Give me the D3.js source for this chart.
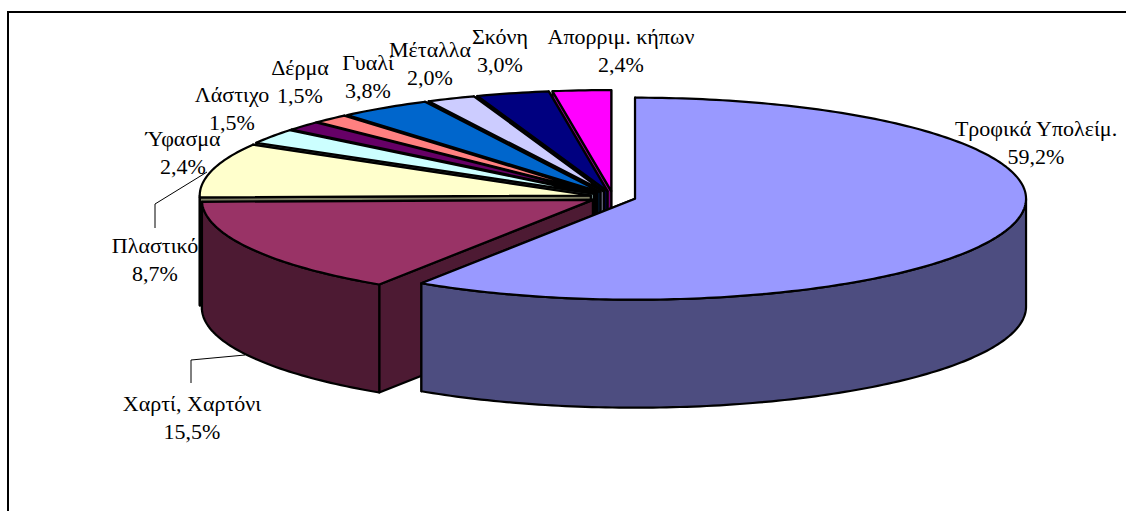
<!DOCTYPE html>
<html><head><meta charset="utf-8">
<script src="https://cdn.jsdelivr.net/npm/d3@7/dist/d3.min.js"></script>
<style>html,body{margin:0;padding:0;background:#fff;overflow:hidden}svg{display:block}</style>
</head><body><svg id="c" width="1126" height="511"></svg>
<script>
const categories=["Τροφικά Υπολείμ.","Χαρτί, Χαρτόνι","Πλαστικό","Ύφασμα","Λάστιχο","Δέρμα","Γυαλί","Μέταλλα","Σκόνη","Απορριμ. κήπων"];
const values=[59.2,15.5,8.7,2.4,1.5,1.5,3.8,2.0,3.0,2.4];
const valueLabels=["59,2%","15,5%","8,7%","2,4%","1,5%","1,5%","3,8%","2,0%","3,0%","2,4%"];
const topColors=["#9999ff","#993366","#ffffcc","#ccffff","#660066","#ff8080","#0066cc","#ccccff","#000080","#ff00ff"];
const wallColors=["#4d4d80","#4d1a33","#808066","#668080","#330033","#804040","#003366","#666680","#000040","#800080"];
const labelCenters=[[1036,129],[192,404],[155,246],[183,139],[232,95],[300,68],[368,63],[430,50],[500,37],[621,37]];
const leaderLines=[[[207,172],[155,204],[155,228]],[[245,355],[191,360],[191,383]]];

const cx=613,cy=197,rx=391,ry=101,depth=108,explode=23,k=ry/rx,lineGap=27.5;
const svg=d3.select("#c");
const line=d3.line();
svg.append("path").attr("d",line([[8,511],[8,12],[1126,12]])).attr("fill","none").attr("stroke","#000").attr("stroke-width",2);

const pie=d3.pie().sort(null).value(d=>d);
const arcs=pie(values).map((a,i)=>({...a,i}));
const pt=(a,cxx,cyy)=>[cxx+rx*Math.sin(a),cyy-ry*Math.cos(a)];
const arcPts=(a0,a1,c0,c1)=>{const n=Math.max(2,Math.ceil((a1-a0)*180/Math.PI));
  return d3.range(n+1).map(j=>pt(a0+(a1-a0)*j/n,c0,c1));};

const g=svg.append("g").attr("stroke","#000").attr("stroke-width",2.2).attr("stroke-linejoin","round");
arcs.slice().reverse().forEach(s=>{
  const mid=(s.startAngle+s.endAngle)/2;
  const ox=cx+explode*Math.sin(mid), oy=cy-explode*k*Math.cos(mid);
  const wall=wallColors[s.i];
  [s.startAngle,s.endAngle].sort((a,b)=>Math.cos(b)-Math.cos(a)).forEach(a=>{
    const o=pt(a,ox,oy);
    g.append("path").attr("fill",wall).attr("d",line([[ox,oy],o,[o[0],o[1]+depth],[ox,oy+depth]])+"Z");
  });
  const lo=Math.max(s.startAngle,Math.PI/2),hi=Math.min(s.endAngle,Math.PI*1.5);
  if(hi>lo){
    const up=arcPts(lo,hi,ox,oy), dn=up.map(p=>[p[0],p[1]+depth]).reverse();
    g.append("path").attr("fill",wall).attr("d",line(up.concat(dn))+"Z");
  }
  g.append("path").attr("fill",topColors[s.i]).attr("d",line([[ox,oy],...arcPts(s.startAngle,s.endAngle,ox,oy)])+"Z");
});

leaderLines.forEach(l=>svg.append("path").attr("d",line(l)).attr("fill","none").attr("stroke","#000").attr("stroke-width",1));

const t=svg.append("g").attr("font-family","'Liberation Serif',serif").attr("font-size",22).attr("fill","#000").attr("text-anchor","middle");
categories.forEach((c,i)=>{
  const [x,y]=labelCenters[i];
  t.append("text").attr("x",x).attr("y",y).attr("dy","0.32em").text(c);
  t.append("text").attr("x",x).attr("y",y+lineGap).attr("dy","0.32em").text(valueLabels[i]);
});
</script></body></html>
